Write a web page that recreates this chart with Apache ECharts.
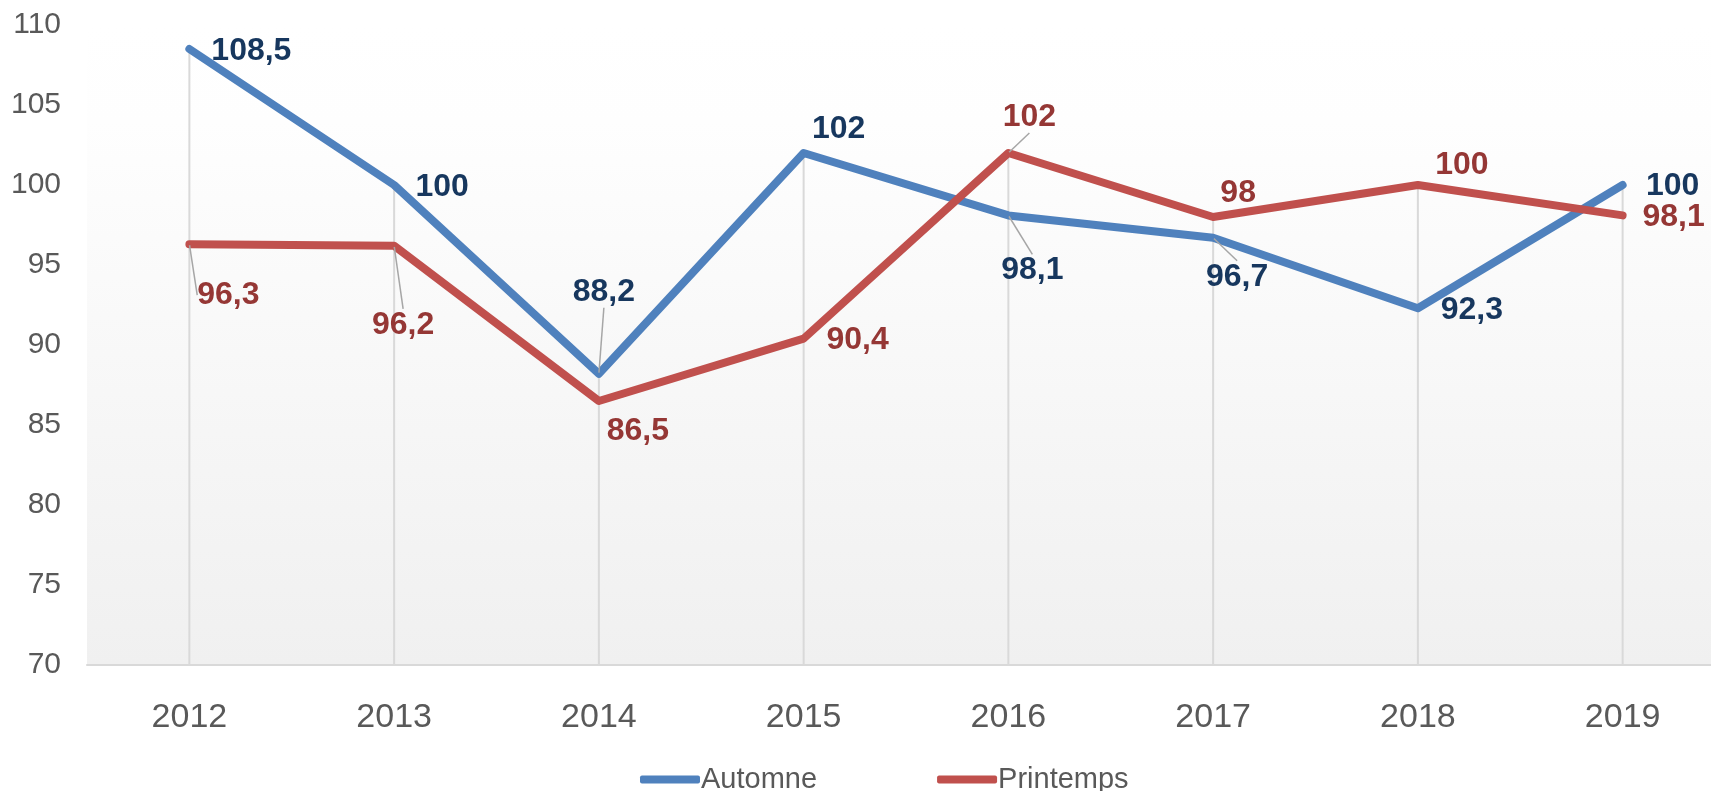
<!DOCTYPE html>
<html>
<head>
<meta charset="utf-8">
<script src="https://cdn.jsdelivr.net/npm/echarts@6/dist/echarts.min.js"></script>
<style>
  html, body { margin: 0; padding: 0; background: #fff; }
  #chart { width: 1711px; height: 791px; }
</style>
</head>
<body>
<div id="chart"></div>
<script>
var years = ['2012', '2013', '2014', '2015', '2016', '2017', '2018', '2019'];
var automne = [108.5, 100, 88.2, 102, 98.1, 96.7, 92.3, 100];
var printemps = [96.3, 96.2, 86.5, 90.4, 102, 98, 100, 98.1];

// label offsets (px from the point), and which ones get a leader line
var automneOffsets = [[62, 2], [48, 2], [5, -82], [35, -24], [24, 55], [24, 39], [54, 2], [50, 1]];
var printempsOffsets = [[39, 51], [9, 79], [39, 30], [54, 2], [21, -36], [25, -24], [44, -20], [51, 2]];
var automneLeader = [false, false, true, false, true, true, false, false];
var printempsLeader = [true, true, false, false, true, false, false, false];

var font = 'Liberation Sans, Arial, sans-serif';
var offsets = [automneOffsets, printempsOffsets];

function fmt(v) {
    return String(v).replace('.', ',');
}

function items(values, leader) {
    return values.map(function (v, i) {
        return { value: v, labelLine: { show: leader[i] } };
    });
}

// drop lines from the higher point down to the axis
var dropLines = automne.map(function (v, i) {
    return Math.max(v, printemps[i]);
});

function lineSeries(name, values, leader, color, labelColor) {
    return {
        name: name,
        type: 'line',
        data: items(values, leader),
        symbol: 'circle',
        symbolSize: 2,
        showSymbol: true,
        z: 3,
        itemStyle: { color: color },
        lineStyle: { color: color, width: 8, cap: 'round', join: 'round' },
        label: {
            show: true,
            position: 'inside',
            color: labelColor,
            fontFamily: font,
            fontWeight: 'bold',
            fontSize: 32,
            formatter: function (p) { return fmt(p.value); }
        },
        labelLine: {
            show: false,
            lineStyle: { color: '#a6a6a6', width: 1.5 }
        },
        labelLayout: function (p) {
            var o = offsets[p.seriesIndex][p.dataIndex];
            return { dx: o[0], dy: o[1] };
        },
        emphasis: { disabled: true }
    };
}

var chart = echarts.init(document.getElementById('chart'));
chart.setOption({
    backgroundColor: '#ffffff',
    animation: false,
    textStyle: { fontFamily: font },
    grid: {
        left: 87,
        top: 25,
        bottom: 126,
        width: 1638,
        outerBoundsMode: 'none',
        containLabel: false,
        show: true,
        borderWidth: 0,
        backgroundColor: {
            type: 'linear', x: 0, y: 0, x2: 0, y2: 1,
            colorStops: [
                { offset: 0, color: '#ffffff' },
                { offset: 0.15, color: '#fefefe' },
                { offset: 1, color: '#f0f0f0' }
            ]
        }
    },
    legend: {
        data: ['Automne', 'Printemps'],
        left: 635,
        top: 760,
        itemWidth: 60,
        itemHeight: 8,
        itemGap: 120,
        icon: 'roundRect',
        textStyle: { fontSize: 29, color: '#595959', fontFamily: font, padding: [0, 0, 0, -4] }
    },
    xAxis: {
        type: 'category',
        data: years,
        axisLine: { lineStyle: { color: '#d9d9d9', width: 2 } },
        axisTick: { show: false },
        splitLine: { show: false },
        axisLabel: { fontSize: 34, color: '#595959', margin: 36, fontFamily: font }
    },
    yAxis: {
        type: 'value',
        min: 70,
        max: 110,
        interval: 5,
        axisLine: { show: false },
        axisTick: { show: false },
        splitLine: { show: false },
        axisLabel: { fontSize: 30, color: '#595959', margin: 26, fontFamily: font }
    },
    series: [
        lineSeries('Automne', automne, automneLeader, '#4f81bd', '#17375e'),
        lineSeries('Printemps', printemps, printempsLeader, '#c0504d', '#953735'),
        {
            name: 'drop',
            type: 'bar',
            data: dropLines,
            barWidth: 2,
            z: 1,
            silent: true,
            itemStyle: { color: '#d9d9d9' },
            emphasis: { disabled: true }
        }
    ]
});
</script>
</body>
</html>
